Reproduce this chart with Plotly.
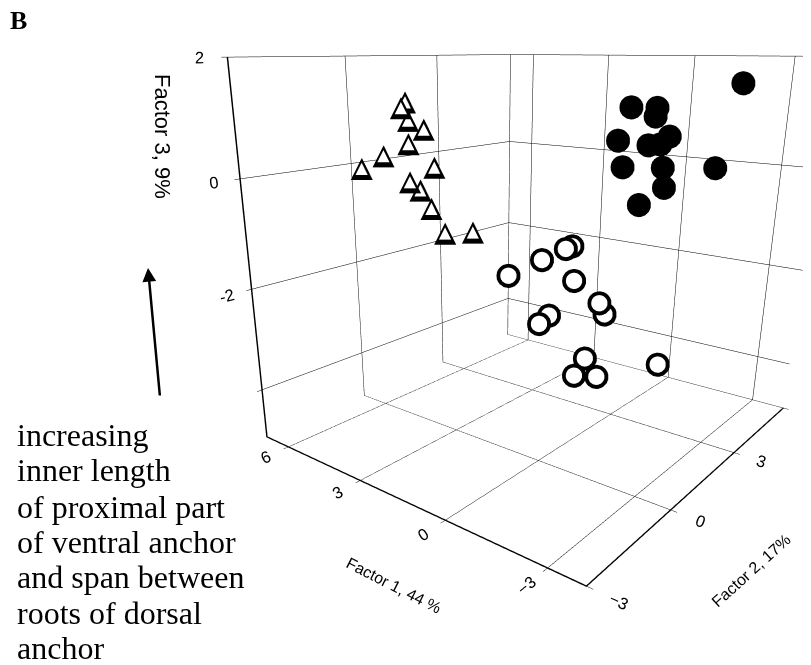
import plotly.graph_objects as go

# Factor scores
# triangles
tri_f1 = [4.0, 4.0, 4.0, 4.0, 4.0, 4.0, 4.0, 4.0, 4.0, 4.0, 4.0, 4.0, 4.0]
tri_f2 = [-0.55, -0.67, -0.48, -0.02, -0.49, -1.21, -1.81, 0.28, -0.48, -0.17, 0.16, 0.59, 1.56]
tri_f3 = [1.26, 1.17, 0.95, 0.77, 0.55, 0.40, 0.24, 0.07, -0.12, -0.30, -0.68, -1.21, -1.33]
# filled circles
fil_f1 = [-2.0, -2.0, -2.0, -2.0, -2.0, -2.0, -2.0, -2.0, -2.0, -2.0, -2.0, -2.0, -2.0]
fil_f2 = [5.20, 0.33, 1.30, 1.25, -0.07, 1.88, 1.05, 1.52, 0.14, 1.69, 4.14, 1.80, 0.83]
fil_f3 = [1.53, 1.31, 1.26, 1.13, 0.85, 0.78, 0.70, 0.68, 0.44, 0.29, 0.06, -0.05, -0.22]
# open circles
opn_f1 = [0.5, 0.5, 0.5, 0.5, 0.5, 0.5, 0.5, 0.5, 0.5, 0.5, 0.5, 0.5, 0.3]
opn_f2 = [-0.62, 0.50, 1.37, 1.62, 1.74, 0.81, 0.45, 2.86, 3.12, 2.33, 1.89, 2.89, 5.78]
opn_f3 = [-1.42, -1.34, -1.28, -1.27, -1.95, -2.43, -2.51, -2.62, -2.91, -3.66, -3.91, -4.21, -4.67]

f1_ticks = [-3, 0, 3, 6]
f2_ticks = [-3, 0, 3, 6]
f3_ticks = [-4, -2, 0, 2]
f3_ticktext = ["", "-2", "0", "2"]

note_lines = ["increasing", "inner length", "of proximal part", "of ventral anchor",
              "and span between", "roots of dorsal", "anchor"]

fig = go.Figure()

# Plotly x = Factor 2, y = Factor 1, z = Factor 3
fig.add_trace(go.Scatter3d(
    x=tri_f2, y=tri_f1, z=tri_f3, mode="text", text=["▲"] * len(tri_f1),
    textfont=dict(family="DejaVu Sans", size=29, color="black"),
    textposition="middle center", hoverinfo="skip", showlegend=False))
fig.add_trace(go.Scatter3d(
    x=tri_f2, y=tri_f1, z=tri_f3, mode="text", text=["▲"] * len(tri_f1),
    textfont=dict(family="DejaVu Sans", size=16, color="white"),
    textposition="middle center", hoverinfo="skip", showlegend=False))
fig.add_trace(go.Scatter3d(
    x=fil_f2, y=fil_f1, z=fil_f3, mode="markers",
    marker=dict(symbol="circle", size=14, color="black"),
    hoverinfo="skip", showlegend=False))
fig.add_trace(go.Scatter3d(
    x=opn_f2, y=opn_f1, z=opn_f3, mode="markers",
    marker=dict(symbol="circle", size=14, color="black"),
    hoverinfo="skip", showlegend=False))
fig.add_trace(go.Scatter3d(
    x=opn_f2, y=opn_f1, z=opn_f3, mode="markers",
    marker=dict(symbol="circle", size=9.5, color="white"),
    hoverinfo="skip", showlegend=False))

axis_common = dict(
    showbackground=False, gridcolor="black", gridwidth=1, showline=True,
    linecolor="black", linewidth=3, zeroline=False, showspikes=False,
    ticks="outside", tickcolor="black", ticklen=5,
    tickfont=dict(family="Liberation Sans", size=14, color="black"),
    autorange=False, title=dict(text=""),
)

title_font = dict(family="Liberation Sans", size=16, color="black")
ann = [
    dict(text="<b>B</b>", xref="paper", yref="paper", x=0, y=1.006,
         xanchor="left", yanchor="top", showarrow=False,
         font=dict(family="Liberation Serif", size=26, color="black")),
    dict(text="Factor 3, 9%", xref="paper", yref="paper", x=155 / 811, y=1 - 128 / 665,
         xanchor="center", yanchor="middle", textangle=90, showarrow=False,
         font=dict(family="Liberation Sans", size=22, color="black")),
    dict(text="Factor 1, 44 %", xref="paper", yref="paper", x=386 / 811, y=1 - 577 / 665,
         xanchor="center", yanchor="middle", textangle=27, showarrow=False, font=title_font),
    dict(text="Factor 2, 17%", xref="paper", yref="paper", x=743 / 811, y=1 - 562 / 665,
         xanchor="center", yanchor="middle", textangle=-42, showarrow=False, font=title_font),
    dict(text="", xref="paper", yref="paper", x=140 / 811, y=1 - 260 / 665,
         ax=12, ay=129, showarrow=True, arrowhead=2, arrowsize=1.1,
         arrowwidth=2.5, arrowcolor="black"),
]
line_y = [427, 462, 499, 534, 569, 605, 640]
for txt, yy in zip(note_lines, line_y):
    ann.append(dict(text=txt, xref="paper", yref="paper", x=7 / 811, y=1 - yy / 665,
                    xanchor="left", yanchor="middle", align="left", showarrow=False,
                    font=dict(family="Liberation Serif", size=32, color="black")))

fig.update_layout(
    width=811, height=665, margin=dict(l=0, r=0, t=0, b=0),
    paper_bgcolor="white", plot_bgcolor="white",
    scene=dict(
        domain=dict(x=[0.18, 1], y=[0, 1]),
        xaxis=dict(axis_common, range=[-3, 6], tickvals=f2_ticks),
        yaxis=dict(axis_common, range=[-4, 7], tickvals=f1_ticks),
        zaxis=dict(axis_common, range=[-5, 2], tickvals=f3_ticks, ticktext=f3_ticktext),
        aspectmode="manual", aspectratio=dict(x=2.2, y=2.1, z=2.0),
        camera=dict(eye=dict(x=-3.453, y=-2.443, z=1.039),
                    center=dict(x=-0.1716, y=0.2242, z=-0.5),
                    up=dict(x=0, y=0, z=1)),
    ),
    annotations=ann,
)

fig.write_html("out.html", config={"displayModeBar": False})
